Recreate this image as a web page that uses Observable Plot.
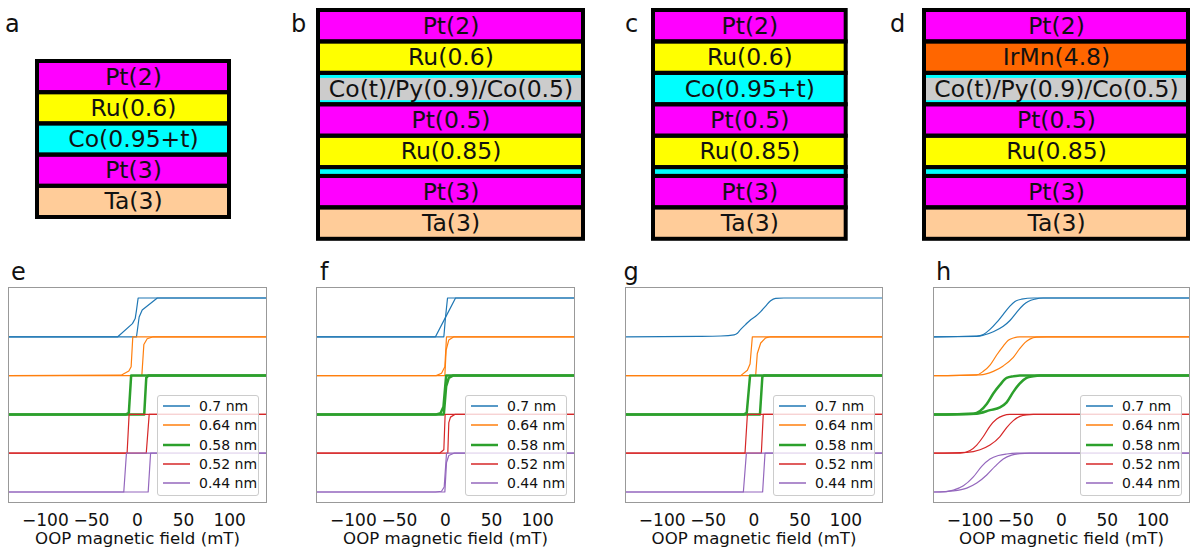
<!DOCTYPE html>
<html><head><meta charset="utf-8">
<script src="https://cdn.jsdelivr.net/npm/d3@7"></script>
<script src="https://cdn.jsdelivr.net/npm/@observablehq/plot@0.6"></script>
<style>
html,body{margin:0;padding:0;background:#fff;overflow:hidden}
#fig{position:relative;width:1190px;height:556px;overflow:hidden;font-family:"DejaVu Sans",sans-serif;background:#fff}
.letter{position:absolute;font-size:24px;line-height:24px;color:#111;font-family:"DejaVu Sans",sans-serif}
.legend{position:absolute;box-sizing:border-box;border:1px solid #cccccc;border-radius:3px;background:rgba(255,255,255,0.8)}
.legrow{position:absolute;left:0;height:16px;width:100px;font-size:14px;line-height:16px;color:#111;font-family:"DejaVu Sans",sans-serif}
.legrow svg{position:absolute;left:4px;top:0}
.legrow span{position:absolute;left:41px;top:0;white-space:nowrap}
</style></head>
<body><div id="fig"></div>
<script>
// ---------- layer stacks (thickness in units of one thick layer) ----------
const stackA_labels = ["Pt(2)", "Ru(0.6)", "Co(0.95+t)", "Pt(3)", "Ta(3)"];
const stackA_fills  = ["#ff00ff", "#ffff00", "#00ffff", "#ff00ff", "#ffcc99"];
const stackA_thick  = [1, 1, 1, 1, 1];

const stackB_labels = ["Pt(2)", "Ru(0.6)", "Co(t)/Py(0.9)/Co(0.5)", "Pt(0.5)", "Ru(0.85)", "", "Pt(3)", "Ta(3)"];
const stackB_fills  = ["#ff00ff", "#ffff00", "#00ffff", "#ff00ff", "#ffff00", "#00ffff", "#ff00ff", "#ffcc99"];
const stackB_thick  = [1, 1, 1, 1, 1, 0.28, 1, 1];

const stackC_labels = ["Pt(2)", "Ru(0.6)", "Co(0.95+t)", "Pt(0.5)", "Ru(0.85)", "", "Pt(3)", "Ta(3)"];
const stackC_fills  = ["#ff00ff", "#ffff00", "#00ffff", "#ff00ff", "#ffff00", "#00ffff", "#ff00ff", "#ffcc99"];
const stackC_thick  = [1, 1, 1, 1, 1, 0.28, 1, 1];

const stackD_labels = ["Pt(2)", "IrMn(4.8)", "Co(t)/Py(0.9)/Co(0.5)", "Pt(0.5)", "Ru(0.85)", "", "Pt(3)", "Ta(3)"];
const stackD_fills  = ["#ff00ff", "#ff6600", "#00ffff", "#ff00ff", "#ffff00", "#00ffff", "#ff00ff", "#ffcc99"];
const stackD_thick  = [1, 1, 1, 1, 1, 0.28, 1, 1];

// composite Co/Py/Co layer: Py core (gray) between Co sublayers [top, bottom]
const pyFill = "#cccccc";
const coSublayers = [0.16, 0.13];

// ---------- hysteresis loops: [field (mT), normalised moment] ----------
// each loop: ascending branch up to [140,1], then descending branch back to [-140,0]
const seriesLabels = ["0.7 nm", "0.64 nm", "0.58 nm", "0.52 nm", "0.44 nm"];
const seriesColors = ["#1f77b4", "#ff7f0e", "#2ca02c", "#d62728", "#9467bd"];
const seriesOffsets = [4, 3, 2, 1, 0];
const xTicks = [-100, -50, 0, 50, 100];
const xLabel = "OOP magnetic field (mT)";

const e070 = [[-140,0],[-1.1,0],[1.8,0.51],[5.1,0.69],[21.5,1],[140,1],[0.7,1],[-1.2,0.67],[-2.5,0.47],[-5.5,0.34],[-21.4,0],[-140,0]];
const e064 = [[-140,0],[4.7,0],[6.9,0.8],[10.5,0.95],[17.1,1],[140,1],[-5.1,1],[-6.9,0.23],[-9.4,0.12],[-17.8,0.01],[-140,0]];
const e058 = [[-140,0],[7.3,0],[9.5,0.94],[11.6,1],[140,1],[-6.9,1],[-9.4,0.04],[-12.4,0],[-140,0]];
const e052 = [[-140,0],[9.5,0],[12.7,1],[140,1],[-9.1,1],[-11.3,0],[-140,0]];
const e044 = [[-140,0],[11.6,0],[14.2,1],[140,1],[-12,1],[-14.9,0],[-140,0]];

const f070 = [[-140,0],[-1.8,0],[0,0.5],[10.9,1],[140,1],[2.2,1],[0,0.5],[-10.9,0],[-140,0]];
const f064 = [[-140,0],[-0.7,0],[0.7,0.66],[3.6,0.92],[9.1,1],[140,1],[1.1,1],[-0.7,0.23],[-4.3,0.06],[-10.1,0],[-140,0]];
const f058 = [[-140,0],[-1.8,0],[0.7,0.72],[3.6,0.94],[8,1],[140,1],[0.7,1],[-2.2,0.2],[-5.4,0.03],[-10,0],[-140,0]];
const f052 = [[-140,0],[2.5,0],[3.6,0.79],[5.4,0.93],[10.1,1],[140,1],[-0.4,1],[-1.8,0.09],[-6.5,0],[-140,0]];
const f044 = [[-140,0],[-0.7,0],[1.1,0.76],[3.6,0.94],[9.1,1],[140,1],[1.1,1],[-1.4,0.13],[-4.3,0.02],[-10.9,0],[-140,0]];

const g070 = [[-140,0],[-60,0.01],[-36.2,0.02],[-21.7,0.05],[-18.1,0.09],[-14.5,0.19],[-9,0.32],[-3.6,0.44],[1.8,0.53],[7.3,0.65],[12.7,0.79],[18.1,0.93],[23.6,0.99],[32.6,1],[140,1]];
const g064 = [[-140,0],[1.8,0],[3.6,0.57],[7.3,0.84],[12.7,0.97],[18.1,1],[140,1],[-1.8,1],[-4.3,0.3],[-7.2,0.14],[-14.5,0],[-140,0]];
const g058 = [[-140,0],[6.5,0],[9.1,0.97],[10.9,1],[140,1],[-4.3,1],[-7.9,0.04],[-10.9,0],[-140,0]];
const g052 = [[-140,0],[8,0],[10.1,1],[140,1],[-7.2,1],[-9.8,0],[-140,0]];
const g044 = [[-140,0],[9.4,0],[12,1],[140,1],[-8.3,1],[-11.6,0],[-140,0]];

const h070 = [[-140,0],[-92.7,0.01],[-85.5,0.04],[-74.6,0.13],[-63.7,0.27],[-56.4,0.42],[-49.1,0.63],[-41.8,0.82],[-36.4,0.91],[-29.1,0.97],[-20,1],[140,1],[-30.9,1],[-43.6,0.97],[-50.9,0.91],[-56.4,0.79],[-63.7,0.58],[-70.9,0.37],[-78.2,0.19],[-85.5,0.06],[-92.7,0.02],[-140,0]];
const h064 = [[-140,0],[-89.1,0.02],[-74.6,0.11],[-63.7,0.25],[-52.7,0.47],[-45.5,0.7],[-40,0.85],[-34.6,0.94],[-27.3,0.99],[-16.4,1],[140,1],[-45.5,1],[-52.7,0.97],[-58.2,0.91],[-63.7,0.76],[-70.9,0.53],[-78.2,0.27],[-85.5,0.11],[-92.7,0.02],[-140,0]];
const h058 = [[-140,0],[-92.7,0.02],[-78.2,0.11],[-67.3,0.18],[-60,0.31],[-52.7,0.58],[-45.5,0.8],[-38.2,0.94],[-30.9,0.98],[-23.6,1],[140,1],[-45.5,1],[-52.7,0.98],[-60,0.94],[-67.3,0.76],[-74.6,0.54],[-81.8,0.27],[-89.1,0.09],[-96.4,0.02],[-140,0]];
const h052 = [[-140,0],[-103.6,0.02],[-89.1,0.09],[-78.2,0.21],[-67.3,0.43],[-60,0.66],[-52.7,0.84],[-45.5,0.95],[-38.2,0.99],[-30.9,1],[140,1],[-56.4,1],[-63.7,0.97],[-70.9,0.88],[-78.2,0.7],[-85.5,0.43],[-92.7,0.21],[-100,0.07],[-110.9,0],[-140,0]];
const h044 = [[-140,0],[-118.2,0.03],[-103.6,0.1],[-92.7,0.23],[-81.8,0.44],[-72.7,0.66],[-63.7,0.85],[-54.6,0.95],[-45.5,0.99],[-34.6,1],[140,1],[-49.1,1],[-60,0.98],[-69.1,0.94],[-78.2,0.85],[-87.3,0.66],[-96.4,0.39],[-107.3,0.16],[-118.2,0.05],[-132.7,0],[-140,0]];

// ---------- build ----------
const fig = document.getElementById("fig");
const FONT = "DejaVu Sans, sans-serif";

function place(el, left, top) {
  el.style.position = "absolute";
  el.style.left = left + "px";
  el.style.top = top + "px";
  fig.appendChild(el);
}

function letter(t, left, top) {
  const d = document.createElement("div");
  d.className = "letter";
  d.textContent = t;
  d.style.left = left + "px";
  d.style.top = top + "px";
  fig.appendChild(d);
}

function makeStack(labels, fills, thick, x0, x1, y0, y1) {
  const total = d3.sum(thick);
  let acc = total;
  const layers = labels.map((lab, i) => {
    const top = acc, bot = acc - thick[i];
    acc = bot;
    return {lab, fill: fills[i], y1: bot, y2: top, ym: (bot + top) / 2, composite: lab.includes("/")};
  });
  const cores = layers.filter(d => d.composite).map(d => ({y1: d.y1 + coSublayers[1], y2: d.y2 - coSublayers[0]}));
  const m = 4;
  const svg = Plot.plot({
    width: (x1 - x0) + 2 * m, height: (y1 - y0) + 2 * m,
    margin: m,
    x: {domain: [0, 1], axis: null},
    y: {domain: [0, total], axis: null},
    color: {type: "identity"},
    style: {background: "transparent", fontFamily: FONT, overflow: "visible"},
    marks: [
      Plot.rect(layers, {x1: 0, x2: 1, y1: "y1", y2: "y2", fill: "fill"}),
      Plot.rect(cores, {x1: 0, x2: 1, y1: "y1", y2: "y2", fill: pyFill}),
      Plot.rect(layers, {x1: 0, x2: 1, y1: "y1", y2: "y2", fill: "none", stroke: "#000", strokeWidth: 4}),
      Plot.text(layers.filter(d => d.lab), {x: 0.5, y: "ym", text: "lab", fontSize: 23.5, fill: "#111"})
    ]
  });
  place(svg, x0 - m, y0 - m);
}

makeStack(stackA_labels, stackA_fills, stackA_thick, 37, 229, 61, 217);
makeStack(stackB_labels, stackB_fills, stackB_thick, 318, 583, 9.5, 238.3);
makeStack(stackC_labels, stackC_fills, stackC_thick, 653.3, 846, 9.5, 238.3);
makeStack(stackD_labels, stackD_fills, stackD_thick, 924, 1188, 9.5, 238.3);

// split a loop into its two sweep branches, each ordered by increasing field
function branches(arr, offset) {
  const k = arr.findIndex(p => p[0] === 140);
  const up = arr.slice(0, k + 1);
  const down = arr.slice(k).reverse();
  const rows = [];
  [up, down].forEach((b, j) => {
    if (b.length > 1) b.forEach(([h, mm]) => rows.push({h, y: mm + offset, branch: j}));
  });
  return rows;
}

function makeLoops(series, curves, frameLeft, frameWidth) {
  const mL = 20, mR = 20, mT = 2, mB = 54, innerH = 215;
  const marks = series.map((arr, i) => Plot.line(
    branches(arr, seriesOffsets[i]),
    {x: "h", y: "y", z: "branch", stroke: seriesColors[i], strokeWidth: i === 2 ? 2.5 : 1.2, curve: curves[i], clip: true}
  ));
  const svg = Plot.plot({
    width: frameWidth + mL + mR, height: innerH + mT + mB,
    marginLeft: mL, marginRight: mR, marginTop: mT, marginBottom: mB,
    x: {domain: [-140, 140]},
    y: {domain: [-0.27, 5.27], axis: null},
    style: {background: "transparent", fontFamily: FONT, overflow: "visible", color: "#111"},
    marks: [
      ...marks,
      Plot.frame({stroke: "#999"}),
      Plot.axisX({ticks: xTicks, tickSize: 0, tickPadding: 11, fontSize: 17, label: null}),
      Plot.text([xLabel], {text: d => d, frameAnchor: "bottom", dy: 41, fontSize: 16.6, fill: "#111"})
    ]
  });
  place(svg, frameLeft - mL, 287 - mT);

  // legend
  const frameRight = frameLeft + frameWidth;
  const lg = document.createElement("div");
  lg.className = "legend";
  lg.style.left = (frameRight - 109) + "px";
  lg.style.top = "395px";
  lg.style.width = "102px";
  lg.style.height = "101px";
  seriesLabels.forEach((lab, i) => {
    const row = document.createElement("div");
    row.className = "legrow";
    row.style.top = (11 + i * 19.3 - 8 - 1) + "px";
    const sw = i === 2 ? 2.5 : 1.5;
    row.innerHTML = `<svg width="30" height="16"><line x1="1" x2="28" y1="8" y2="8" stroke="${seriesColors[i]}" stroke-width="${sw}"/></svg><span>${lab}</span>`;
    lg.appendChild(row);
  });
  fig.appendChild(lg);
}

const L = "linear", S = "monotone-x";
makeLoops([e070, e064, e058, e052, e044], [L, L, L, L, L], 8, 258);
makeLoops([f070, f064, f058, f052, f044], [L, L, L, L, L], 316, 258);
makeLoops([g070, g064, g058, g052, g044], [S, L, L, L, L], 625, 257);
makeLoops([h070, h064, h058, h052, h044], [S, S, S, S, S], 933, 256);

letter("a", 5, 12);
letter("b", 291, 12);
letter("c", 625, 12);
letter("d", 890, 12);
letter("e", 11, 260);
letter("f", 320, 260);
letter("g", 623.5, 260);
letter("h", 936, 260);
</script>
</body></html>
